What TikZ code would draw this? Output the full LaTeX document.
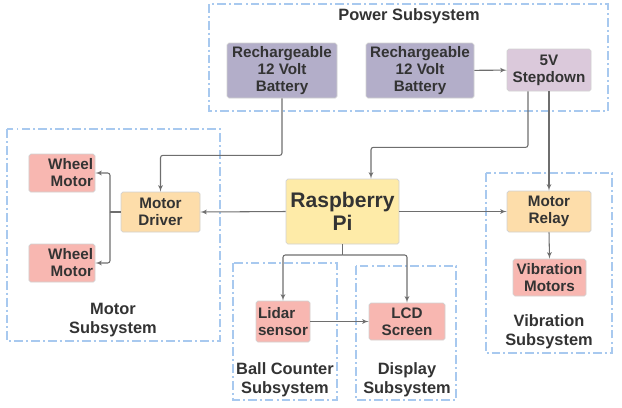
\documentclass[tikz,border=0pt]{standalone}
\usepackage{fontspec}
\setmainfont{Liberation Sans}
\usetikzlibrary{arrows,positioning,calc}
\definecolor{txt}{HTML}{333333}
\definecolor{wire}{HTML}{6E6E6E}
\definecolor{frm}{HTML}{A8C9EF}
\definecolor{batfill}{HTML}{B3AEC9}
\definecolor{stepfill}{HTML}{DBC9DB}
\definecolor{motfill}{HTML}{F8B7B1}
\definecolor{drvfill}{HTML}{FDDDAA}
\definecolor{pifill}{HTML}{FEEBA8}

\begin{document}
\begin{tikzpicture}[x=0.03cm, y=-0.03cm,
            every node/.style={text=txt, align=center, inner sep=0pt,
                font=\fontsize{13}{14.5}\selectfont\bfseries},
            lbl/.style={font=\fontsize{14}{16.2}\selectfont\bfseries},
            blk/.style={draw=black!18, line width=0.6pt, rounded corners=1.5pt},
            frame/.style={draw=frm, line width=1.3pt,
                dash pattern=on 7.5pt off 2.6pt on 1.7pt off 2.6pt},
            conn/.style={draw=wire, line width=0.9pt, rounded corners=2pt},
            arr/.style={conn, -latex'}]
        \useasboundingbox (0,0) rectangle (622,407);

        \draw[frame] (209,4) rectangle (608,111);
        \draw[frame] (7,129) rectangle (220,341);
        \draw[frame] (486,173) rectangle (612,353);
        \draw[frame] (233,263) rectangle (337,400);
        \draw[frame] (356,266) rectangle (456,400);

        \node[lbl] (powerlbl) at (409,16) {Power Subsystem};
        \node[lbl] (motorlbl) at (113,320) {Motor\\Subsystem};
        \node[lbl] (viblbl) at (549,332) {Vibration\\Subsystem};
        \node[lbl] (balllbl) at (285,380) {Ball Counter\\Subsystem};
        \node[lbl] (displbl) at (407,380) {Display\\Subsystem};

        \node[blk, fill=batfill, minimum width=3.3cm, minimum height=1.65cm] (bat1) at (282,70.5) {Rechargeable\\12 Volt\\Battery};
        \node[blk, fill=batfill, minimum width=3.24cm, minimum height=1.65cm] (bat2) at (420,70.5) {Rechargeable\\12 Volt\\Battery};
        \node[blk, fill=stepfill, minimum width=2.52cm, minimum height=1.26cm] (step) at (549,70) {5V\\Stepdown};
        \node[blk, fill=pifill, minimum width=3.39cm, minimum height=1.95cm,
              font=\fontsize{18}{19.6}\selectfont\bfseries] (rpi) at (342.5,211.5) {Raspberry\\Pi};
        \node[blk, fill=drvfill, minimum width=2.37cm, minimum height=1.2cm] (drv) at (160.5,212) {Motor\\Driver};
        \node[blk, fill=motfill, minimum width=1.98cm, minimum height=1.14cm,
              text width=1.86cm, align=right] (wm1) at (62,173) {Wheel\\Motor};
        \node[blk, fill=motfill, minimum width=1.98cm, minimum height=1.14cm,
              text width=1.86cm, align=right] (wm2) at (62,263) {Wheel\\Motor};
        \node[blk, fill=drvfill, minimum width=2.52cm, minimum height=1.23cm] (relay) at (549,211.5) {Motor\\Relay};
        \node[blk, fill=motfill, minimum width=2.19cm, minimum height=1.11cm] (vib) at (549.5,277.5) {Vibration\\Motors};
        \node[blk, fill=motfill, minimum width=1.62cm, minimum height=1.23cm, align=left] (lidar) at (283,321.5) {Lidar\\sensor};
        \node[blk, fill=motfill, minimum width=2.28cm, minimum height=1.11cm] (lcd) at (407,321.5) {LCD\\Screen};

        \coordinate (split) at (110,212);
        \coordinate (pisplit) at (342.5,255);

        \draw[arr] (bat2) -- (step);
        \draw[arr] (bat1.south) -- ++(0,57) -| (drv.north);
        \draw[arr] ($(step.south)+(-21,0)$) -- ++(0,56) -| ($(rpi.north)+(28.5,0)$);
        \draw[arr] (step.south) -- (relay.north);
        \draw[arr] (rpi.west) -- (drv.east);
        \draw[arr] (rpi.east) -- (relay.west);
        \draw[arr] (relay.south) -- (vib.north);
        \draw[conn] (drv.west) -- (split);
        \draw[arr] (split) |- (wm1.east);
        \draw[arr] (split) |- (wm2.east);
        \draw[conn] (rpi.south) -- (pisplit);
        \draw[arr] (pisplit) -| (lidar.north);
        \draw[arr] (pisplit) -| (lcd.north);
        \draw[arr] (lidar.east) -- (lcd.west);
\end{tikzpicture}
\end{document}
